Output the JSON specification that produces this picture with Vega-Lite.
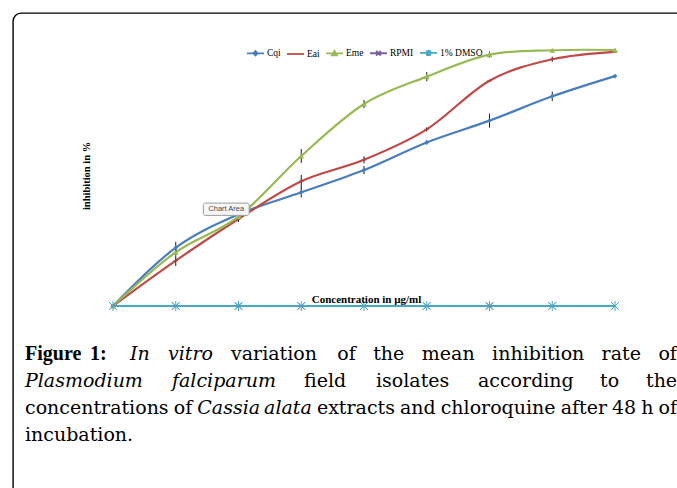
{
  "$schema": "https://vega.github.io/schema/vega-lite/v6.json",
  "width": 684,
  "height": 495,
  "autosize": "none",
  "padding": {"left": 13, "top": 13, "right": -20, "bottom": -20},
  "background": "white",
  "config": {"view": {"stroke": "#000", "strokeWidth": 1.4, "cornerRadius": 8}, "font": "Liberation Serif"},
  "datasets": {
    "pts": [
      {"series": "Cqi", "step": 0, "v": 0, "lo": 0, "hi": 0},
      {"series": "Cqi", "step": 1, "v": 22.8, "lo": 20.5, "hi": 25.1},
      {"series": "Cqi", "step": 2, "v": 35.8, "lo": 34.6, "hi": 37.0},
      {"series": "Cqi", "step": 3, "v": 44.4, "lo": 42.4, "hi": 46.4},
      {"series": "Cqi", "step": 4, "v": 53.1, "lo": 51.5, "hi": 54.7},
      {"series": "Cqi", "step": 5, "v": 63.9, "lo": 63.1, "hi": 64.7},
      {"series": "Cqi", "step": 6, "v": 72.4, "lo": 69.7, "hi": 75.1},
      {"series": "Cqi", "step": 7, "v": 81.9, "lo": 80.1, "hi": 83.7},
      {"series": "Cqi", "step": 8, "v": 89.8, "lo": 89.4, "hi": 90.2},
      {"series": "Eai", "step": 0, "v": 0, "lo": 0, "hi": 0},
      {"series": "Eai", "step": 1, "v": 17.7, "lo": 15.6, "hi": 19.8},
      {"series": "Eai", "step": 2, "v": 34.0, "lo": 32.8, "hi": 35.2},
      {"series": "Eai", "step": 3, "v": 48.7, "lo": 46.2, "hi": 51.2},
      {"series": "Eai", "step": 4, "v": 57.1, "lo": 55.7, "hi": 58.5},
      {"series": "Eai", "step": 5, "v": 69.0, "lo": 68.2, "hi": 69.8},
      {"series": "Eai", "step": 6, "v": 88.0, "lo": 87.6, "hi": 88.4},
      {"series": "Eai", "step": 7, "v": 96.4, "lo": 95.4, "hi": 97.4},
      {"series": "Eai", "step": 8, "v": 99.3, "lo": 98.9, "hi": 99.7},
      {"series": "Eme", "step": 0, "v": 0, "lo": 0, "hi": 0},
      {"series": "Eme", "step": 1, "v": 21.0, "lo": 19.8, "hi": 22.2},
      {"series": "Eme", "step": 2, "v": 34.9, "lo": 34.1, "hi": 35.7},
      {"series": "Eme", "step": 3, "v": 58.6, "lo": 55.9, "hi": 61.3},
      {"series": "Eme", "step": 4, "v": 78.9, "lo": 77.3, "hi": 80.5},
      {"series": "Eme", "step": 5, "v": 89.6, "lo": 87.8, "hi": 91.4},
      {"series": "Eme", "step": 6, "v": 98.2, "lo": 97.0, "hi": 99.4},
      {"series": "Eme", "step": 7, "v": 99.9, "lo": 99.5, "hi": 100.3},
      {"series": "Eme", "step": 8, "v": 100, "lo": 99.6, "hi": 100.4},
      {"series": "RPMI", "step": 0, "v": 0, "lo": 0, "hi": 0},
      {"series": "RPMI", "step": 1, "v": 0, "lo": 0, "hi": 0},
      {"series": "RPMI", "step": 2, "v": 0, "lo": 0, "hi": 0},
      {"series": "RPMI", "step": 3, "v": 0, "lo": 0, "hi": 0},
      {"series": "RPMI", "step": 4, "v": 0, "lo": 0, "hi": 0},
      {"series": "RPMI", "step": 5, "v": 0, "lo": 0, "hi": 0},
      {"series": "RPMI", "step": 6, "v": 0, "lo": 0, "hi": 0},
      {"series": "RPMI", "step": 7, "v": 0, "lo": 0, "hi": 0},
      {"series": "RPMI", "step": 8, "v": 0, "lo": 0, "hi": 0},
      {"series": "1% DMSO", "step": 0, "v": 0, "lo": 0, "hi": 0},
      {"series": "1% DMSO", "step": 1, "v": 0, "lo": 0, "hi": 0},
      {"series": "1% DMSO", "step": 2, "v": 0, "lo": 0, "hi": 0},
      {"series": "1% DMSO", "step": 3, "v": 0, "lo": 0, "hi": 0},
      {"series": "1% DMSO", "step": 4, "v": 0, "lo": 0, "hi": 0},
      {"series": "1% DMSO", "step": 5, "v": 0, "lo": 0, "hi": 0},
      {"series": "1% DMSO", "step": 6, "v": 0, "lo": 0, "hi": 0},
      {"series": "1% DMSO", "step": 7, "v": 0, "lo": 0, "hi": 0},
      {"series": "1% DMSO", "step": 8, "v": 0, "lo": 0, "hi": 0}
    ],
    "words": [
      {"w": 1, "line": 1, "t": "Figure", "s": "b"},
      {"w": 2, "line": 1, "t": "1:", "s": "b"},
      {"w": 3, "line": 1, "t": "In", "s": "i"},
      {"w": 4, "line": 1, "t": "vitro", "s": "i"},
      {"w": 5, "line": 1, "t": "variation", "s": "n"},
      {"w": 6, "line": 1, "t": "of", "s": "n"},
      {"w": 7, "line": 1, "t": "the", "s": "n"},
      {"w": 8, "line": 1, "t": "mean", "s": "n"},
      {"w": 9, "line": 1, "t": "inhibition", "s": "n"},
      {"w": 10, "line": 1, "t": "rate", "s": "n"},
      {"w": 11, "line": 1, "t": "of", "s": "n"},
      {"w": 12, "line": 2, "t": "Plasmodium", "s": "i"},
      {"w": 13, "line": 2, "t": "falciparum", "s": "i"},
      {"w": 14, "line": 2, "t": "field", "s": "n"},
      {"w": 15, "line": 2, "t": "isolates", "s": "n"},
      {"w": 16, "line": 2, "t": "according", "s": "n"},
      {"w": 17, "line": 2, "t": "to", "s": "n"},
      {"w": 18, "line": 2, "t": "the", "s": "n"},
      {"w": 19, "line": 3, "t": "concentrations", "s": "n"},
      {"w": 20, "line": 3, "t": "of", "s": "n"},
      {"w": 21, "line": 3, "t": "Cassia", "s": "i"},
      {"w": 22, "line": 3, "t": "alata", "s": "i"},
      {"w": 23, "line": 3, "t": "extracts", "s": "n"},
      {"w": 24, "line": 3, "t": "and", "s": "n"},
      {"w": 25, "line": 3, "t": "chloroquine", "s": "n"},
      {"w": 26, "line": 3, "t": "after", "s": "n"},
      {"w": 27, "line": 3, "t": "48", "s": "n"},
      {"w": 28, "line": 3, "t": "h", "s": "n"},
      {"w": 29, "line": 3, "t": "of", "s": "n"},
      {"w": 30, "line": 4, "t": "incubation.", "s": "n"}
    ]
  },
  "layer": [
    {
      "data": {"name": "pts"},
      "encoding": {
        "x": {"field": "step", "type": "quantitative", "scale": {"domain": [0, 8], "range": [100, 602], "nice": false, "zero": false}, "axis": null},
        "y": {"field": "v", "type": "quantitative", "scale": {"domain": [0, 100], "range": [293, 37], "nice": false, "zero": false}, "axis": null}
      },
      "layer": [
        {
          "mark": {"type": "line", "interpolate": "cardinal", "strokeWidth": 2.2},
          "encoding": {
            "color": {
              "field": "series", "type": "nominal",
              "scale": {"domain": ["Cqi", "Eai", "Eme", "RPMI", "1% DMSO"], "range": ["#4A7EBB", "#BE4B48", "#98B954", "#7D60A0", "#46AAC5"]},
              "legend": {
                "orient": "none", "legendX": 233, "legendY": 30, "direction": "horizontal", "title": null,
                "symbolType": "M-1,0L1,0", "symbolSize": 289, "symbolStrokeWidth": 1.8,
                "labelFont": "Liberation Serif", "labelFontSize": 9.5, "labelColor": "#000", "labelOffset": 2,
                "columnPadding": 2, "padding": 0,
                "encode": {
                  "symbols": {
                    "update": {
                      "shape": {"signal": "datum.value === 'Cqi' ? 'M-1,0L1,0M0,-0.26L0.26,0L0,0.26L-0.26,0Z' : datum.value === 'Eai' ? 'M-1,0L1,0' : datum.value === 'Eme' ? 'M-1,0L1,0M0,-0.3L0.3,0.24L-0.3,0.24Z' : datum.value === 'RPMI' ? 'M-1,0L1,0M-0.28,-0.28L0.28,0.28M-0.28,0.28L0.28,-0.28' : 'M-1,0L1,0M-0.28,-0.28L0.28,0.28M-0.28,0.28L0.28,-0.28M0,-0.36L0,0.36'"},
                      "fill": {"signal": "datum.value === 'Cqi' ? '#4A7EBB' : datum.value === 'Eme' ? '#98B954' : 'transparent'"},
                      "size": {"value": 289},
                      "strokeWidth": {"value": 1.8}
                    }
                  }
                }
              }
            }
          }
        },
        {
          "transform": [{"filter": "datum.hi > datum.lo"}],
          "mark": {"type": "rule", "color": "#1a1a1a", "strokeWidth": 1},
          "encoding": {"y": {"field": "lo", "type": "quantitative"}, "y2": {"field": "hi"}}
        },
        {
          "transform": [{"filter": "datum.series === 'Cqi'"}],
          "mark": {"type": "point", "shape": "diamond", "size": 22, "filled": true, "strokeWidth": 1, "opacity": 1},
          "encoding": {"color": {"field": "series", "type": "nominal", "legend": null}}
        },
        {
          "transform": [{"filter": "datum.series === 'Eai'"}],
          "mark": {"type": "point", "shape": "M-1,-0.3L1,-0.3L1,0.3L-1,0.3Z", "size": 20, "filled": true, "opacity": 1},
          "encoding": {"color": {"field": "series", "type": "nominal", "legend": null}}
        },
        {
          "transform": [{"filter": "datum.series === 'Eme'"}],
          "mark": {"type": "point", "shape": "triangle-up", "size": 34, "filled": true, "opacity": 1},
          "encoding": {"color": {"field": "series", "type": "nominal", "legend": null}}
        },
        {
          "transform": [{"filter": "datum.series === 'RPMI'"}],
          "mark": {"type": "point", "shape": "M-1,-1L1,1M-1,1L1,-1", "size": 50, "filled": false, "strokeWidth": 1, "opacity": 1},
          "encoding": {"color": {"field": "series", "type": "nominal", "legend": null}}
        },
        {
          "transform": [{"filter": "datum.series === '1% DMSO'"}],
          "mark": {"type": "point", "shape": "M-1,-1L1,1M-1,1L1,-1M0,-1.3L0,1.3", "size": 60, "filled": false, "strokeWidth": 1, "opacity": 1},
          "encoding": {"color": {"field": "series", "type": "nominal", "legend": null}}
        },
        {
          "transform": [{"filter": "datum.series === 'Cqi' && datum.step === 0"}],
          "mark": {"type": "rect", "fill": "#f6f6f6", "stroke": "#9c9c9c", "strokeWidth": 1, "cornerRadius": 2},
          "encoding": {"x": {"datum": 1.44}, "x2": {"datum": 2.17}, "y": {"datum": 40.2}, "y2": {"datum": 35.4}}
        },
        {
          "transform": [{"filter": "datum.series === 'Cqi' && datum.step === 0"}],
          "mark": {"type": "text", "text": "Chart Area", "font": "Liberation Sans", "fontSize": 7.5, "color": "#4a4a4a", "align": "center", "baseline": "middle"},
          "encoding": {"x": {"datum": 1.805}, "y": {"datum": 37.7}}
        },
        {
          "transform": [{"filter": "datum.series === 'Cqi' && datum.step === 0"}],
          "mark": {"type": "text", "text": "Concentration in µg/ml", "font": "Liberation Serif", "fontSize": 11, "fontWeight": "bold", "color": "#000", "align": "center", "baseline": "alphabetic"},
          "encoding": {"x": {"datum": 4.04}, "y": {"datum": 1.2}}
        },
        {
          "transform": [{"filter": "datum.series === 'Cqi' && datum.step === 0"}],
          "mark": {"type": "text", "text": "inhibition in %", "font": "Liberation Serif", "fontSize": 10.5, "fontWeight": "bold", "color": "#000", "align": "center", "baseline": "middle", "angle": 270},
          "encoding": {"x": {"datum": -0.414}, "y": {"datum": 50.8}}
        }
      ]
    },
    {
      "data": {"name": "words"},
      "encoding": {
        "x": {"field": "w", "type": "quantitative", "axis": null,
              "scale": {"domain": [1,2,3,4,5,6,7,8,9,10,11,12,13,14,15,16,17,18,19,20,21,22,23,24,25,26,27,28,29,30],
                        "range": [12,77,117,155,218,324.2,360.2,408.8,479.1,588.6,645.4,12,159,291,363,465,587,633,12,160.7,184.3,251.1,303.9,387,427.7,547.7,599,628.3,645.5,12],
                        "nice": false, "zero": false}},
        "y": {"field": "line", "type": "quantitative", "axis": null, "scale": {"domain": [1, 4], "range": [347, 428], "nice": false, "zero": false}},
        "text": {"field": "t"}
      },
      "layer": [
        {"transform": [{"filter": "datum.s === 'b'"}], "mark": {"type": "text", "font": "Liberation Serif", "fontSize": 20, "fontWeight": "bold", "align": "left", "baseline": "alphabetic", "color": "#000"}},
        {"transform": [{"filter": "datum.s === 'i'"}], "mark": {"type": "text", "font": "DejaVu Serif", "fontSize": 19, "fontStyle": "italic", "align": "left", "baseline": "alphabetic", "color": "#000"}},
        {"transform": [{"filter": "datum.s === 'n'"}], "mark": {"type": "text", "font": "DejaVu Serif", "fontSize": 19, "align": "left", "baseline": "alphabetic", "color": "#000"}}
      ]
    }
  ],
  "resolve": {"scale": {"x": "independent", "y": "independent"}}
}
